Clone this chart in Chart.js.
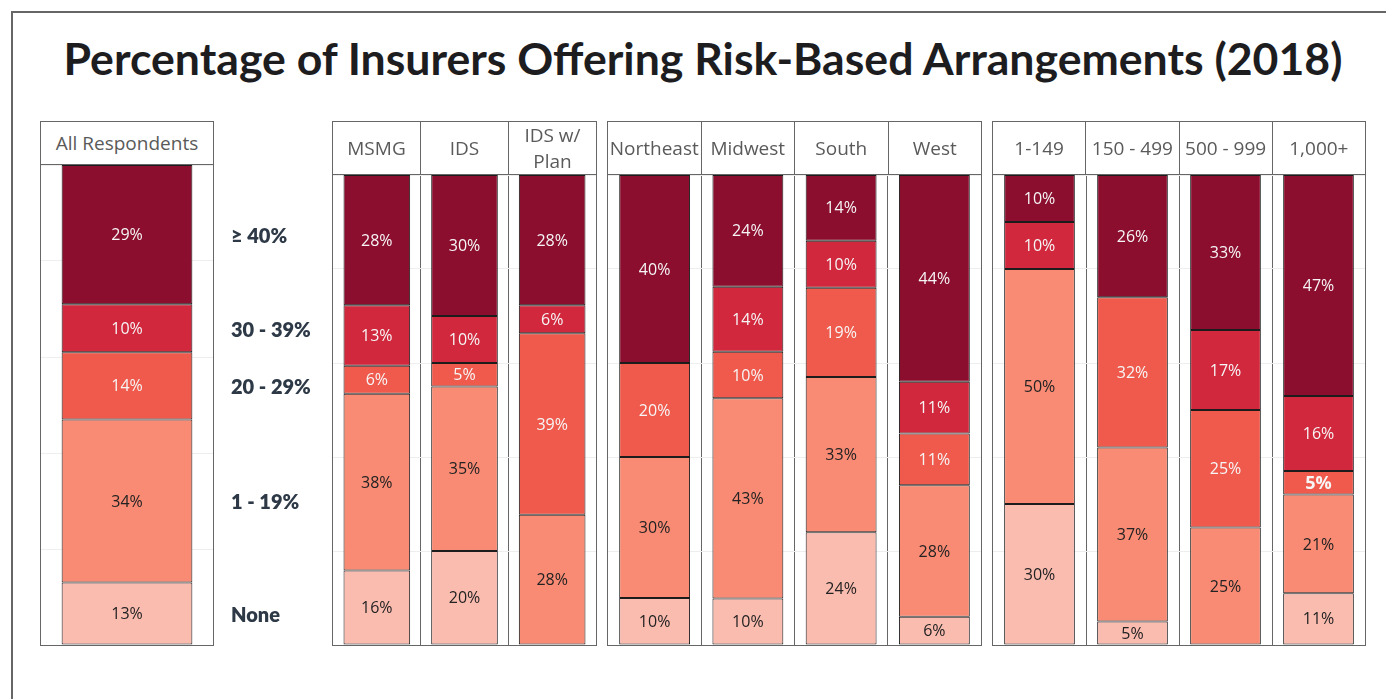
<!DOCTYPE html>
<html>
<head>
<meta charset="utf-8">
<script src="https://cdn.jsdelivr.net/npm/chart.js@4.4.1/dist/chart.umd.min.js"></script>
<style>
  body { margin: 0; background: #fff; width: 1386px; height: 699px; overflow: hidden; position: relative; font-family: "Open Sans", sans-serif; }
  #frame { position: absolute; left: 11px; top: 11px; width: 1400px; height: 700px; border-left: 2px solid #666; border-top: 2px solid #666; }
  #title { position: absolute; left: 11px; width: 1384px; top: 36px; text-align: center; font-family: "Lato", sans-serif; font-weight: 700; font-size: 44.6px; line-height: 44px; color: #1d1d1f; white-space: nowrap; }
  .panel { position: absolute; top: 121px; height: 525px; box-sizing: border-box; border: 1px solid #666; }
  .head { display: flex; box-sizing: border-box; border-bottom: 1px solid #666; }
  .head div { flex: 1; display: flex; align-items: center; justify-content: center; text-align: center; color: #5a5a5a; font-size: 19px; line-height: 26px; border-right: 1px solid #666; }
  .head div:last-child { border-right: none; }
  .panel canvas { position: absolute; left: 0; }
</style>
</head>
<body>
<div id="frame"></div>
<div id="title">Percentage of Insurers Offering Risk-Based Arrangements (2018)</div>
<script>
// categories, in drawing order left to right
const groups = ['All Respondents', 'MSMG', 'IDS', 'IDS w/ Plan', 'Northeast', 'Midwest', 'South', 'West',
                '1-149', '150 - 499', '500 - 999', '1,000+'];

// share of insurers per risk level (stacked bottom to top)
const seriesNames = ['None', '1 - 19%', '20 - 29%', '30 - 39%', '≥ 40%'];
const none      = [13, 16, 20,  0, 10, 10, 24,  6, 30,  5,  0, 11];
const pct1to19  = [34, 38, 35, 28, 30, 43, 33, 28, 50, 37, 25, 21];
const pct20to29 = [14,  6,  5, 39, 20, 10, 19, 11,  0, 32, 25,  5];
const pct30to39 = [10, 13, 10,  6,  0, 14, 10, 11, 10,  0, 17, 16];
const pct40plus = [29, 28, 30, 28, 40, 24, 14, 44, 10, 26, 33, 47];

const seriesValues = [none, pct1to19, pct20to29, pct30to39, pct40plus];
const colors = ['#fbbcb0', '#f98b74', '#ef5a4c', '#d1283d', '#8c0e2f'];

// panel layout
const panels = [
  { left: 40,  width: 174, head: 43, count: 1, side: true },
  { left: 332, width: 265, head: 53, count: 3 },
  { left: 607, width: 375, head: 53, count: 4 },
  { left: 992, width: 374, head: 53, count: 4 }
];

const totals = groups.map((g, i) => seriesValues.reduce((s, arr) => s + arr[i], 0));

const segmentLabels = {
  id: 'segmentLabels',
  afterDatasetsDraw(chart, args, opts) {
    const ctx = chart.ctx;
    ctx.save();
    ctx.textAlign = 'center';
    ctx.textBaseline = 'middle';
    chart.data.datasets.forEach((ds, di) => {
      chart.getDatasetMeta(di).data.forEach((bar, i) => {
        const v = ds.raw[i];
        if (!v) return;
        const strong = chart.data.labels[i] === '1,000+' && ds.label === '20 - 29%';
        ctx.font = strong ? '700 18px "Open Sans"' : '16px "Open Sans"';
        ctx.fillStyle = di < 2 ? '#222' : '#f6f6f6';
        ctx.fillText(v + '%', bar.x, (bar.y + bar.base) / 2 + 1);
      });
    });
    if (opts.side) {
      ctx.textAlign = 'left';
      ctx.font = '800 20px "Lato"';
      ctx.fillStyle = '#2d3946';
      chart.data.datasets.forEach((ds, di) => {
        const bar = chart.getDatasetMeta(di).data[0];
        ctx.fillText(ds.label, chart.chartArea.right + 18, (bar.y + bar.base) / 2 + 2);
      });
    }
    ctx.restore();
  }
};

let start = 0;
panels.forEach(p => {
  const cats = groups.slice(start, start + p.count);
  const idx = cats.map((c, k) => start + k);
  start += p.count;

  const div = document.createElement('div');
  div.className = 'panel';
  div.style.left = p.left + 'px';
  div.style.width = p.width + 'px';
  const head = document.createElement('div');
  head.className = 'head';
  head.style.height = p.head + 'px';
  cats.forEach(c => {
    const cell = document.createElement('div');
    cell.textContent = c;
    head.appendChild(cell);
  });
  div.appendChild(head);

  const plotW = p.width - 2;
  const plotH = 523 - p.head;
  const extra = p.side ? 130 : 0;
  const canvas = document.createElement('canvas');
  canvas.width = plotW + extra;
  canvas.height = plotH;
  canvas.style.top = p.head + 'px';
  div.appendChild(canvas);
  document.body.appendChild(div);

  new Chart(canvas.getContext('2d'), {
    type: 'bar',
    data: {
      labels: cats,
      datasets: seriesNames.map((name, si) => ({
        label: name,
        raw: idx.map(i => seriesValues[si][i]),
        data: idx.map(i => seriesValues[si][i] ? seriesValues[si][i] / totals[i] * 100 : null),
        backgroundColor: colors[si],
        borderColor: '#1c1c1c',
        borderWidth: 1,
        borderSkipped: false,
        inflateAmount: 0,
        barPercentage: 0.76,
        categoryPercentage: 1
      }))
    },
    options: {
      responsive: false,
      animation: false,
      layout: { padding: { left: 0, right: extra, top: 0, bottom: 0 } },
      scales: {
        x: {
          stacked: true,
          ticks: { display: false },
          border: { display: false },
          grid: {
            offset: true,
            drawTicks: false,
            color: c => (c.index === undefined || c.index === 0) ? 'rgba(0,0,0,0)' : '#666'
          }
        },
        y: {
          stacked: true,
          min: 0,
          max: 100,
          ticks: { display: false, stepSize: 20 },
          border: { display: false },
          grid: { drawTicks: false, color: '#eeeeee' }
        }
      },
      plugins: {
        legend: { display: false },
        tooltip: { enabled: false },
        segmentLabels: { side: !!p.side }
      }
    },
    plugins: [segmentLabels]
  });
});
</script>
</body>
</html>
